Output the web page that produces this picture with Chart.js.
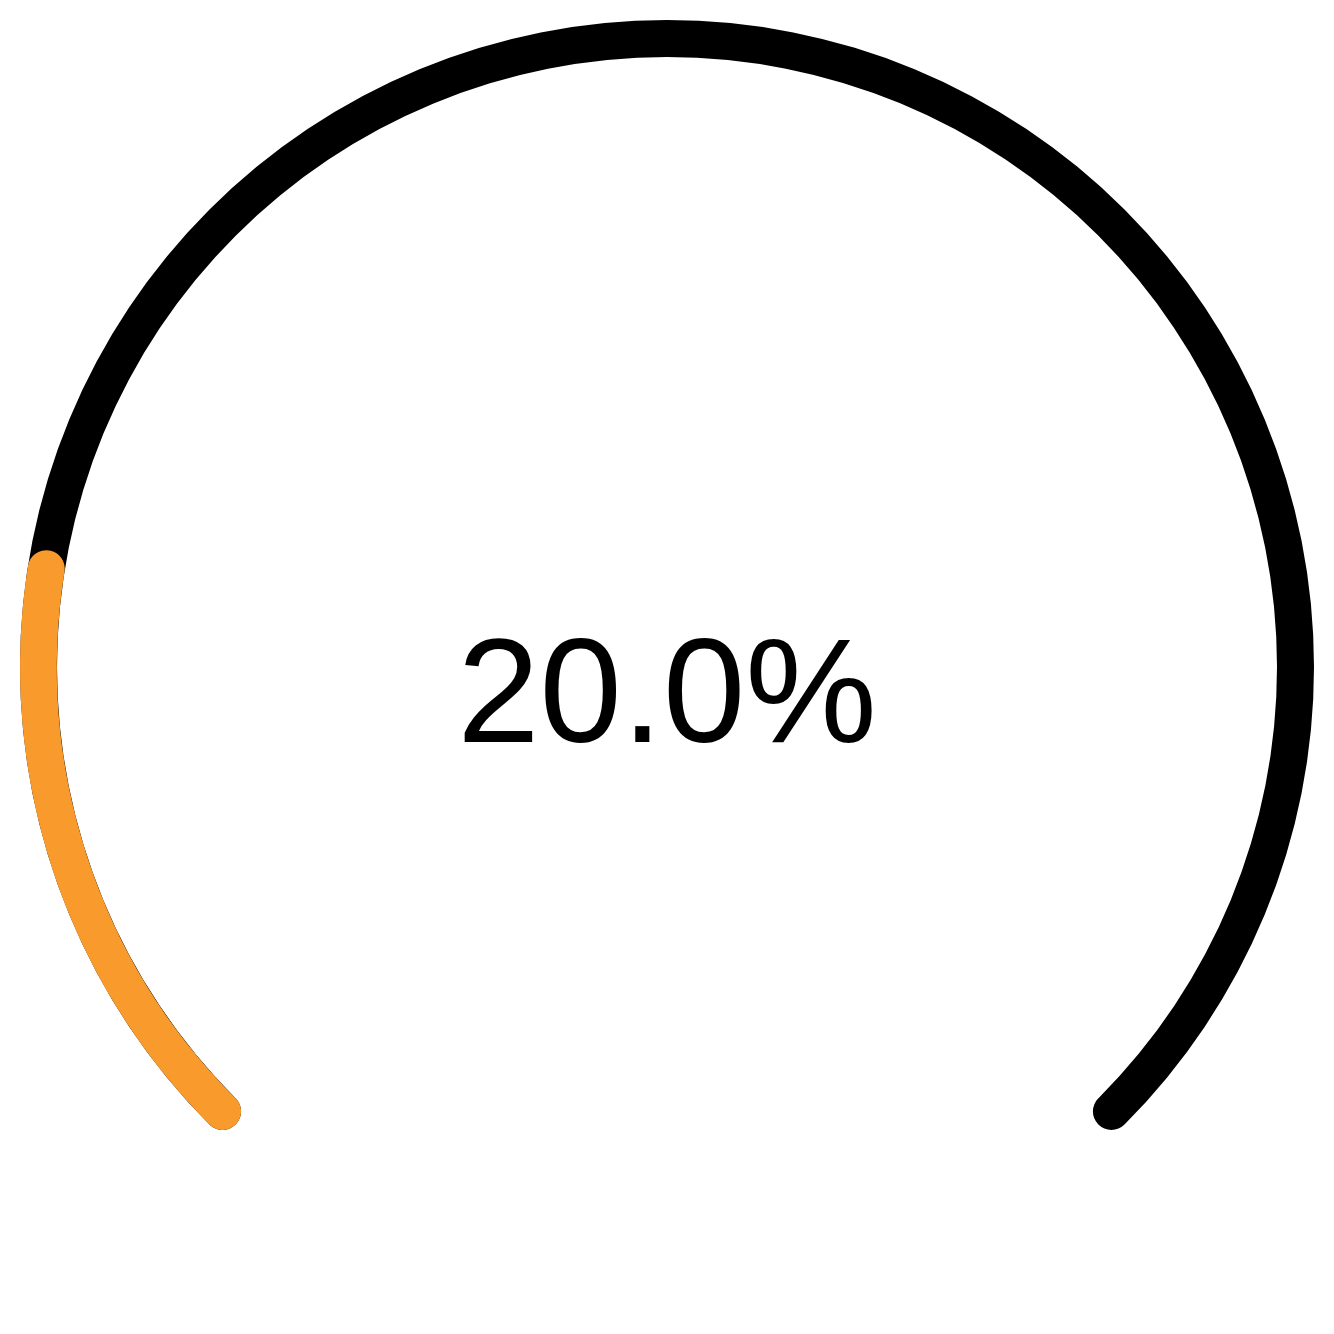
<!DOCTYPE html>
<html lang="en">
  <head>
    <meta charset="UTF-8">
    <title>gauge</title>
    <style>
      body { margin: 0; background: #fff; }
      #wrap { position: relative; width: 1334px; height: 1334px; }
      #wrap canvas { position: absolute; left: 0; top: 0; }
    </style>
  </head>
  <body>
    <div id="wrap">
      <canvas id="track"></canvas>
      <canvas id="gauge"></canvas>
    </div>
    <script src="https://cdn.jsdelivr.net/npm/chart.js"></script>
    <script>

// data
const labels = ['value', 'rest'];
const value = [20];          // percent
const maxValue = [100];
const valueText = ['20.0%'];

const SIZE = 1334;
const R = 647;               // outer radius
const THICK = 37;
const sweep = 270;
const start = -135;
// round caps stick out past the angle, so widen the arc by half a thickness each side
const capDeg = (THICK / 2) / (R - THICK / 2) * 180 / Math.PI;
const rotation = start - capDeg;
const circumference = sweep + 2 * capDeg;

// chart.js moves a partial ring off center, push it back with bottom padding
const maxY = Math.sin((rotation - 90) * Math.PI / 180);
const offY = -(maxY - 1) / 2 * R;
const padBottom = 2 * offY;

const fill = value[0] / maxValue[0] * sweep + 2 * capDeg;

function baseOptions() {
  return {
    responsive: true,
    maintainAspectRatio: false,
    animation: false,
    events: [],
    rotation: rotation,
    circumference: circumference,
    radius: R,
    cutout: ((R - THICK) / R * 100) + '%',
    layout: { padding: { bottom: padBottom } },
    plugins: { legend: { display: false }, tooltip: { enabled: false } }
  };
}

new Chart(document.getElementById('track'), {
  type: 'doughnut',
  data: {
    labels: ['track'],
    datasets: [{
      data: [maxValue[0]],
      backgroundColor: ['#000000'],
      borderWidth: 0,
      borderRadius: THICK / 2
    }]
  },
  options: baseOptions()
});

const centerText = {
  id: 'centerText',
  afterDraw(chart) {
    const ctx = chart.ctx;
    ctx.save();
    ctx.fillStyle = '#000';
    ctx.font = '148px "Liberation Sans", Arial, sans-serif';
    ctx.textAlign = 'center';
    ctx.textBaseline = 'alphabetic';
    ctx.fillText(valueText[0], SIZE / 2, 742);
    ctx.restore();
  }
};

new Chart(document.getElementById('gauge'), {
  type: 'doughnut',
  data: {
    labels: labels,
    datasets: [{
      data: [fill, circumference - fill],
      backgroundColor: ['#F99A2D', 'rgba(0,0,0,0)'],
      borderWidth: 0,
      borderRadius: [THICK / 2, 0]
    }]
  },
  options: baseOptions(),
  plugins: [centerText]
});

</script>
  </body>
</html>
